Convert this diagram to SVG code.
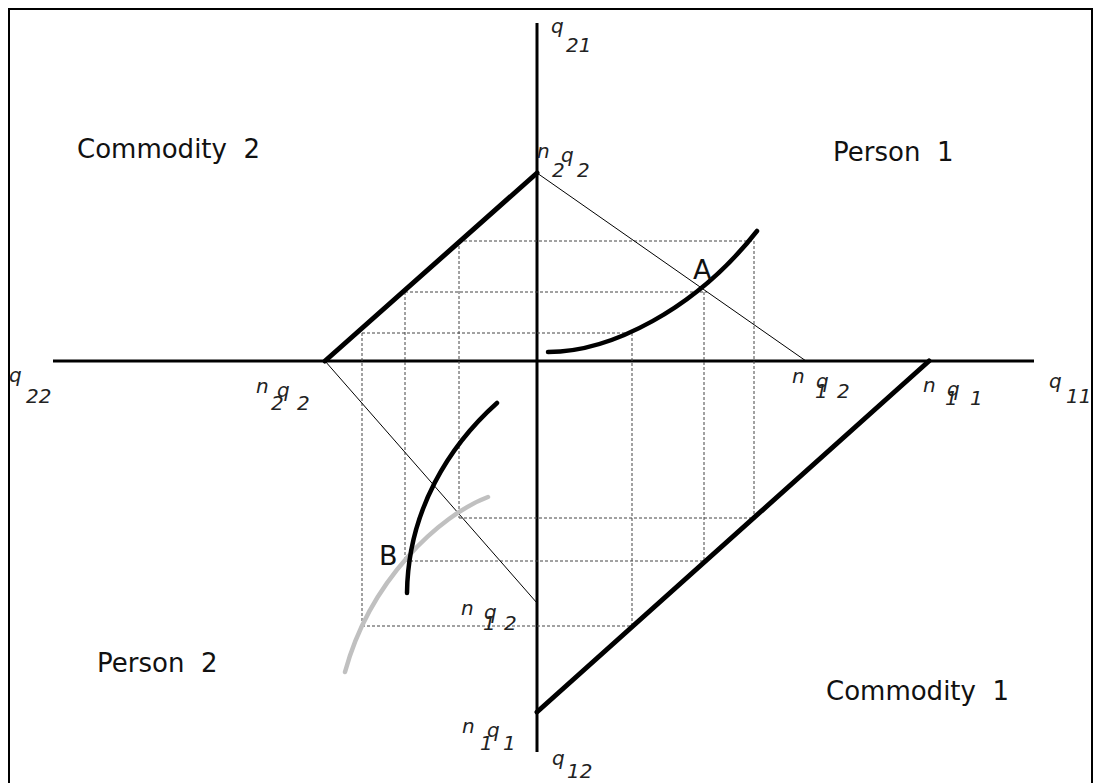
<svg xmlns="http://www.w3.org/2000/svg" width="1104" height="783" viewBox="0 0 1104 783">
<style>
.frame{fill:none;stroke:#000;stroke-width:2}
.axis{stroke:#000;stroke-width:3;fill:none}
.thick{stroke:#000;stroke-width:5;fill:none;stroke-linecap:round}
.thin{stroke:#000;stroke-width:1;fill:none}
.dash{stroke:#444;stroke-width:1;fill:none;stroke-dasharray:3,2}
.curve{stroke:#000;stroke-width:4.5;fill:none;stroke-linecap:round}
.gcurve{stroke:#c0c0c0;stroke-width:4.5;fill:none;stroke-linecap:round}
.big{font-family:"DejaVu Sans",Verdana,sans-serif;font-size:26px;fill:#111;white-space:pre}
.pt{font-family:"DejaVu Sans",Verdana,sans-serif;font-size:27px;fill:#111}
.lab{font-family:"DejaVu Sans",Verdana,sans-serif;font-size:20px;font-style:italic;fill:#222}
</style>
<rect class="frame" x="9" y="9" width="1083" height="800"/>
<g id="connectors">
<line class="axis" x1="537" y1="23" x2="537" y2="752"/>
<line class="axis" x1="53" y1="361" x2="1034" y2="361"/>
<g id="dashes">
<line class="dash" x1="459" y1="241" x2="754" y2="241"/>
<line class="dash" x1="405" y1="292" x2="707" y2="292"/>
<line class="dash" x1="362" y1="333" x2="632" y2="333"/>
<line class="dash" x1="459" y1="518" x2="754" y2="518"/>
<line class="dash" x1="405" y1="561" x2="705" y2="561"/>
<line class="dash" x1="362" y1="626" x2="633" y2="626"/>
<line class="dash" x1="459" y1="241" x2="459" y2="518"/>
<line class="dash" x1="405" y1="292" x2="405" y2="561"/>
<line class="dash" x1="362" y1="333" x2="362" y2="626"/>
<line class="dash" x1="632" y1="333" x2="632" y2="626"/>
<line class="dash" x1="704" y1="292" x2="704" y2="561"/>
<line class="dash" x1="754" y1="241" x2="754" y2="518"/>
</g>
<line class="thin" x1="537" y1="173" x2="806" y2="361"/>
<line class="thin" x1="325" y1="361" x2="537" y2="603"/>
<line class="thick" x1="537" y1="173" x2="325" y2="361"/>
<line class="thick" x1="929" y1="361" x2="537" y2="712"/>
</g>
<g id="person1-curve"><path class="curve" d="M548,352 C610,352 695,310 757,231"/></g>
<g id="person2-gray-curve"><path class="gcurve" d="M488,497 C440,515 370,580 345,672"/></g>
<g id="person2-curve"><path class="curve" d="M497,403 C450,445 408,510 407,593"/></g>
<g id="point-A"><text class="pt" x="693" y="279">A</text></g>
<g id="point-B"><text class="pt" x="379" y="565">B</text></g>
<g id="label-commodity2"><text class="big" x="77" y="158">Commodity  2</text></g>
<g id="label-person1"><text class="big" x="833" y="161">Person  1</text></g>
<g id="label-commodity1"><text class="big" x="826" y="700">Commodity  1</text></g>
<g id="label-person2"><text class="big" x="97" y="672">Person  2</text></g>
<g id="q21"><text class="lab" x="551" y="33">q</text><text class="lab" x="566" y="52">21</text></g>
<g id="n2q2-top"><text class="lab" x="537" y="158">n</text><text class="lab" x="561" y="162">q</text><text class="lab" x="552" y="177">2</text><text class="lab" x="577" y="177">2</text></g>
<g id="q22"><text class="lab" x="9" y="382">q</text><text class="lab" x="26" y="403">22</text></g>
<g id="n2q2-left"><text class="lab" x="256" y="393">n</text><text class="lab" x="277" y="397">q</text><text class="lab" x="271" y="410">2</text><text class="lab" x="297" y="410">2</text></g>
<g id="n1q2-right"><text class="lab" x="792" y="383">n</text><text class="lab" x="816" y="388">q</text><text class="lab" x="815" y="398">1</text><text class="lab" x="837" y="398">2</text></g>
<g id="n1q1-right"><text class="lab" x="923" y="392">n</text><text class="lab" x="947" y="396">q</text><text class="lab" x="945" y="405">1</text><text class="lab" x="970" y="405">1</text></g>
<g id="q11"><text class="lab" x="1049" y="388">q</text><text class="lab" x="1066" y="403">11</text></g>
<g id="n1q2-bottom"><text class="lab" x="461" y="615">n</text><text class="lab" x="484" y="619">q</text><text class="lab" x="483" y="630">1</text><text class="lab" x="504" y="630">2</text></g>
<g id="n1q1-bottom"><text class="lab" x="462" y="733">n</text><text class="lab" x="480" y="750">1</text><text class="lab" x="487" y="737">q</text><text class="lab" x="503" y="750">1</text></g>
<g id="q12"><text class="lab" x="552" y="765">q</text><text class="lab" x="567" y="778">12</text></g>
</svg>
